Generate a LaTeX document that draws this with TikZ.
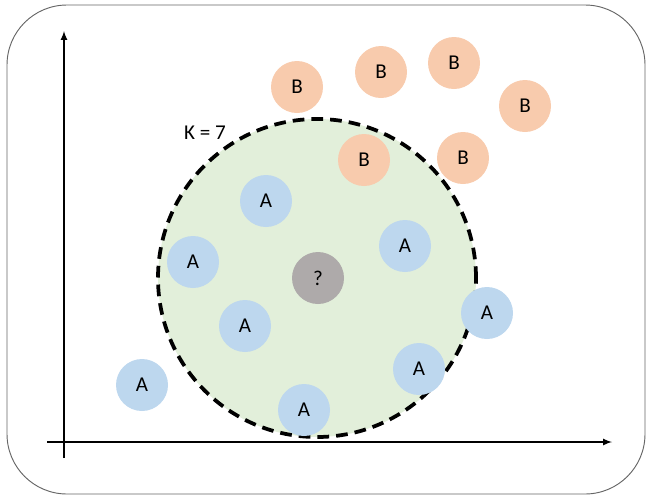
\documentclass[tikz,border=0pt]{standalone}
\usepackage{fontspec}
\setmainfont{Carlito}
\usepackage{xcolor}
\usetikzlibrary{arrows}
\usetikzlibrary{calc}

\definecolor{clsA}{HTML}{BDD7EE}
\definecolor{clsB}{HTML}{F8CBAD}
\definecolor{query}{HTML}{AEAAAA}
\definecolor{hood}{HTML}{E2EFDA}

\tikzset{
  pt/.style={circle,minimum size=1.56cm,inner sep=0pt,font=\fontsize{18}{21}\selectfont},
  ptA/.style={pt,fill=clsA},
  ptB/.style={pt,fill=clsB},
  axis/.style={line width=1.6pt,-latex}
}

\begin{document}
\begin{tikzpicture}[x=0.03cm,y=-0.03cm]

\useasboundingbox (0,0) rectangle (650,497);
\draw[color=black!60, line width=0.8pt, rounded corners=1.8cm] (7,5) rectangle (645,494);

% neighbourhood
\node[circle, minimum size=9.54cm, fill=hood, draw=black, line width=3.2pt, dash pattern=on 10pt off 6pt] (knn) at (317,278) {};
\node[font=\fontsize{18}{21}\selectfont] (klabel) at (205,133) {K = 7};

% axes
\coordinate (o) at (64,442);
\coordinate (xend) at (612,442);
\coordinate (yend) at (64,31);
\coordinate (xstart) at (47,442);
\coordinate (ystart) at (64,458);
\draw[axis] (xstart) -- (xend);
\draw[axis] (ystart) -- (yend);

% class B
\foreach \x/\y [count=\i] in {297/87, 381/72, 454/63, 525/106, 364/160, 463/158}
  \node[ptB] (b\i) at (\x,\y) {B};

% class A
\foreach \x/\y [count=\i] in {266/201, 193/262, 405/246, 245/326, 487/313, 419/369, 142/385, 304/410}
  \node[ptA] (a\i) at (\x,\y) {A};

\node[pt, fill=query] (q) at (318,278) {?};

\end{tikzpicture}
\end{document}
